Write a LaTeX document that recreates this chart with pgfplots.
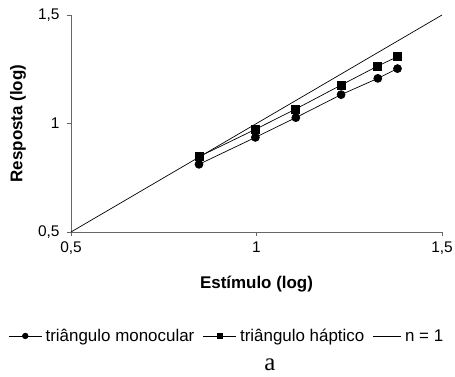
\documentclass[border=0pt]{standalone}
\usepackage{pgfplots}
\pgfplotsset{compat=1.18}
\usepackage{fontspec}
\setmainfont{Liberation Sans}
\newfontfamily\seriffont{Liberation Serif}
\begin{document}
\begin{tikzpicture}
\useasboundingbox (-71bp,-145bp) rectangle (384bp,232bp);
\begin{axis}[
  scale only axis,
  width=371bp, height=217bp,
  xmin=0.5, xmax=1.5, ymin=0.5, ymax=1.5,
  axis x line*=bottom, axis y line*=left,
  axis line style={draw=black!60, line width=0.6pt},
  xtick={0.5,1,1.5}, ytick={0.5,1,1.5},
  xticklabels={0{,}5,1,1{,}5}, yticklabels={0{,}5,1,1{,}5},
  tick align=outside, major tick length=4bp,
  tick style={draw=black!60, line width=0.6pt},
  ticklabel style={font=\fontsize{15.5}{17}\selectfont},
  xticklabel style={yshift=-2bp},
  yticklabel style={xshift=-4bp},
  xlabel={\textbf{Estímulo (log)}},
  ylabel={\textbf{Resposta (log)}},
  label style={font=\fontsize{17}{19}\selectfont},
  xlabel style={at={(axis description cs:0.5,-0.24)}, anchor=center},
  ylabel style={at={(axis description cs:-0.143,0.5)}, anchor=center},
  legend columns=3,
  legend style={draw=none, fill=none, at={(axis description cs:0.422,-0.479)}, anchor=center,
    font=\fontsize{17}{19}\selectfont, column sep=0pt, nodes={inner xsep=3.5bp},
    /tikz/every even column/.append style={column sep=5bp}},
  legend cell align=left,
  clip=false,
]
\addplot[black, line width=0.7pt, mark=*, mark size=4bp,
  legend image code/.code={\draw[line width=0.7pt] (0bp,0bp) -- (33bp,0bp); \fill (16.5bp,0bp) circle (2.8bp);}]
  coordinates {(0.845,0.812) (0.997,0.936) (1.106,1.027) (1.228,1.133) (1.327,1.208) (1.380,1.253)};
\addlegendentry{triângulo monocular}
\addplot[black, line width=0.7pt, mark=square*, mark size=4bp,
  legend image code/.code={\draw[line width=0.7pt] (0bp,0bp) -- (33bp,0bp); \fill (13.8bp,-2.7bp) rectangle (19.2bp,2.7bp);}]
  coordinates {(0.845,0.847) (0.997,0.973) (1.106,1.067) (1.228,1.177) (1.327,1.265) (1.380,1.308)};
\addlegendentry{triângulo háptico}
\addplot[black, line width=0.7pt, no marks,
  legend image code/.code={\draw[line width=0.7pt] (0bp,0bp) -- (28bp,0bp);}]
  coordinates {(0.5,0.5) (1.5,1.5)};
\addlegendentry{n = 1}
\node[font=\seriffont\fontsize{25}{28}\selectfont] at (axis description cs:0.536,-0.613) {a};
\end{axis}
\end{tikzpicture}
\end{document}
